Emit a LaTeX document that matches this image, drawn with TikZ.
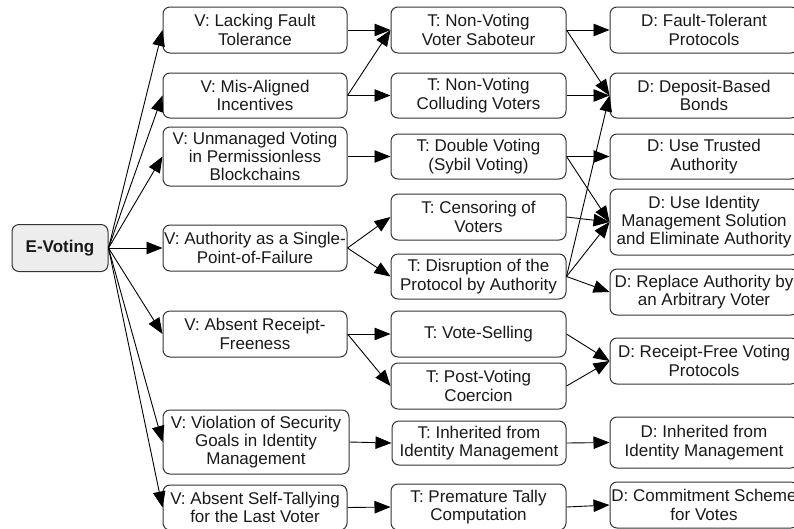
\documentclass[tikz,border=0pt]{standalone}
\usepackage{fontspec}
\setmainfont{Liberation Sans}
\usetikzlibrary{arrows.meta}
\begin{document}
\begin{tikzpicture}[x=1pt,y=-1pt,
  box/.style={draw=black!80, line width=1pt, rounded corners=7pt, align=center,
    inner sep=0pt, text=black!90, font=\fontsize{17}{18.4}\selectfont},
  rootbox/.style={box, fill=black!7, font=\fontsize{17}{18.4}\selectfont\bfseries},
  link/.style={draw=black, line width=0.9pt, -{Triangle[length=16pt,width=12.5pt]}}
]
\useasboundingbox (0,0) rectangle (794,528);

% root
\node[rootbox, minimum width=96pt, minimum height=47pt] (ev) at (60,248) {E-Voting};

% vulnerabilities
\node[box, minimum width=184pt, minimum height=46pt] (v1) at (255,30) {V: Lacking Fault\\Tolerance};
\node[box, minimum width=184pt, minimum height=45pt] (v2) at (255,95.5) {V: Mis-Aligned\\Incentives};
\node[box, minimum width=184pt, minimum height=59pt] (v3) at (255,156.5) {V: Unmanaged Voting\\in Permissionless\\Blockchains};
\node[box, minimum width=184pt, minimum height=46pt] (v4) at (255,248) {V: Authority as a Single-\\Point-of-Failure};
\node[box, minimum width=184pt, minimum height=46pt] (v5) at (255,334) {V: Absent Receipt-\\Freeness};
\node[box, minimum width=186pt, minimum height=64pt] (v6) at (256,442) {V: Violation of Security\\Goals in Identity\\Management};
\node[box, minimum width=184pt, minimum height=45pt] (v7) at (255,507.5) {V: Absent Self-Tallying\\for the Last Voter};

% threats
\node[box, minimum width=175pt, minimum height=46pt] (t1) at (478.5,30) {T: Non-Voting\\Voter Saboteur};
\node[box, minimum width=175pt, minimum height=45pt] (t2) at (478.5,95.5) {T: Non-Voting\\Colluding Voters};
\node[box, minimum width=175pt, minimum height=45pt] (t3) at (478.5,156.5) {T: Double Voting\\(Sybil Voting)};
\node[box, minimum width=175pt, minimum height=46pt] (t4) at (478.5,217) {T: Censoring of\\Voters};
\node[box, minimum width=175pt, minimum height=45pt] (t5) at (478.5,276.5) {T: Disruption of the\\Protocol by Authority};
\node[box, minimum width=175pt, minimum height=46pt] (t6) at (478.5,334) {T: Vote-Selling};
\node[box, minimum width=175pt, minimum height=46pt] (t7) at (478.5,386) {T: Post-Voting\\Coercion};
\node[box, minimum width=174pt, minimum height=44pt] (t8) at (479,443) {T: Inherited from\\Identity Management};
\node[box, minimum width=175pt, minimum height=46pt] (t9) at (478.5,507) {T: Premature Tally\\Computation};

% defenses
\node[box, minimum width=188pt, minimum height=46pt] (d1) at (704,30) {D: Fault-Tolerant\\Protocols};
\node[box, minimum width=188pt, minimum height=45pt] (d2) at (704,95.5) {D: Deposit-Based\\Bonds};
\node[box, minimum width=188pt, minimum height=45pt] (d3) at (704,156.5) {D: Use Trusted\\Authority};
\node[box, minimum width=188pt, minimum height=66pt] (d4) at (704,222) {D: Use Identity\\Management Solution\\and Eliminate Authority};
\node[box, minimum width=188pt, minimum height=46pt] (d5) at (704,292) {D: Replace Authority by\\an Arbitrary Voter};
\node[box, minimum width=188pt, minimum height=46pt] (d6) at (704,361) {D: Receipt-Free Voting\\Protocols};
\node[box, minimum width=188pt, minimum height=51pt] (d7) at (704,442.5) {D: Inherited from\\Identity Management};
\node[box, minimum width=188pt, minimum height=46pt] (d8) at (704,505) {D: Commitment Scheme\\for Votes};

% root to vulnerabilities
\foreach \v in {v1,v2,v3,v4,v5,v6,v7}
  \draw[link] (ev.east) -- (\v.west);

% vulnerabilities to threats
\draw[link] (v1.east) -- (t1.west);
\draw[link] (v2.east) -- (t1.west);
\draw[link] (v2.east) -- (t2.west);
\draw[link] (v3.east) -- (t3.west);
\draw[link] (v4.east) -- (t4.west);
\draw[link] (v4.east) -- (t5.west);
\draw[link] (v5.east) -- (t6.west);
\draw[link] (v5.east) -- (t7.west);
\draw[link] (v6.east) -- (t8.west);
\draw[link] (v7.east) -- (t9.west);

% threats to defenses
\draw[link] (t1.east) -- (d1.west);
\draw[link] (t1.east) -- (d2.west);
\draw[link] (t2.east) -- (d2.west);
\draw[link] (t3.east) -- (d3.west);
\draw[link] (t3.east) -- (d4.west);
\draw[link] (t4.east) -- (d4.west);
\draw[link] (t5.east) -- (d2.west);
\draw[link] (t5.east) -- (d4.west);
\draw[link] (t5.east) -- (d5.west);
\draw[link] (t6.east) -- (d6.west);
\draw[link] (t7.east) -- (d6.west);
\draw[link] (t8.east) -- (d7.west);
\draw[link] (t9.east) -- (d8.west);
\end{tikzpicture}
\end{document}
